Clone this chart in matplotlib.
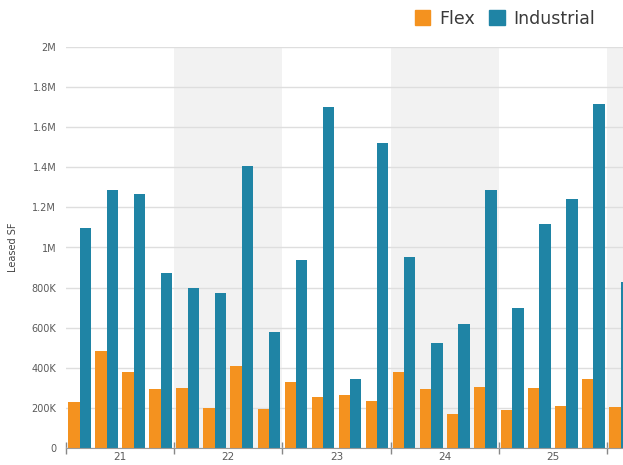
import matplotlib
matplotlib.use("Agg")
import matplotlib.pyplot as plt
from matplotlib.patches import Patch
import numpy as np

years = ["21", "22", "23", "24", "25"]
quarters = ["21Q1", "21Q2", "21Q3", "21Q4", "22Q1", "22Q2", "22Q3", "22Q4",
            "23Q1", "23Q2", "23Q3", "23Q4", "24Q1", "24Q2", "24Q3", "24Q4",
            "25Q1", "25Q2", "25Q3", "25Q4", "26Q1"]
flex = [230e3, 485e3, 380e3, 295e3, 300e3, 200e3, 408e3, 196e3,
        331e3, 256e3, 264e3, 234e3, 381e3, 293e3, 171e3, 306e3,
        191e3, 298e3, 211e3, 344e3, 203e3]
industrial = [1.097e6, 1.287e6, 1.267e6, 874e3, 800e3, 773e3, 1.408e6, 577e3,
              939e3, 1.703e6, 343e3, 1.523e6, 953e3, 522e3, 617e3, 1.287e6,
              698e3, 1.117e6, 1.240e6, 1.716e6, 826e3]
y_ticks = [0, 200e3, 400e3, 600e3, 800e3, 1e6, 1.2e6, 1.4e6, 1.6e6, 1.8e6, 2e6]
y_labels = ["0", "200K", "400K", "600K", "800K", "1M", "1.2M", "1.4M", "1.6M", "1.8M", "2M"]

C_FLEX = "#F4921F"
C_IND = "#1F84A5"

W, H = 623, 465
fig = plt.figure(figsize=(W / 100, H / 100), dpi=100)
left_px, bottom_px, top_px = 66, 448, 47
ax = fig.add_axes([left_px / W, (H - bottom_px) / H, 1 - left_px / W, (bottom_px - top_px) / H])

x = np.arange(len(quarters))
bw = 0.42
ax.bar(x - bw / 2, flex, width=bw, color=C_FLEX, zorder=3)
ax.bar(x + bw / 2, industrial, width=bw, color=C_IND, zorder=3)

xmax = -0.5 + (W - left_px) / 27.05
ax.set_xlim(-0.5, xmax)
ax.set_ylim(0, 2e6)

# alternating year shading
for k in range(0, 7):
    if k % 2 == 1:
        ax.axvspan(-0.5 + 4 * k, -0.5 + 4 * (k + 1), color="#f2f2f2", zorder=0, lw=0)

ax.set_yticks(y_ticks)
ax.set_yticklabels(y_labels)
ax.grid(axis="y", color="#dedede", lw=1, zorder=1)
ax.tick_params(axis="y", length=0, labelsize=7, labelcolor="#5a5a5a", pad=7)

bounds = [-0.5 + 4 * k for k in range(6)]
ax.set_xticks(bounds)
ax.set_xticklabels([])
ax.set_xticks([1.5 + 4 * k for k in range(len(years))], minor=True)
ax.set_xticklabels(years, minor=True)
ax.tick_params(axis="x", which="major", direction="inout", length=9, color="#888888", width=1)
ax.tick_params(axis="x", which="minor", length=0, labelsize=7.5, labelcolor="#5a5a5a", pad=3)

for s in ["top", "right", "left"]:
    ax.spines[s].set_visible(False)
ax.spines["bottom"].set_color("#999999")
ax.spines["bottom"].set_zorder(4)

ax.set_ylabel("Leased SF", fontsize=7, color="#444444", labelpad=10)

handles = [Patch(color=C_FLEX, label="Flex"), Patch(color=C_IND, label="Industrial")]
fig.legend(handles=handles, loc="upper right", bbox_to_anchor=(605 / W, 1.0), ncol=2,
           frameon=False, prop={"size": 12.5}, handlelength=0.9, handleheight=0.9,
           handletextpad=0.5, columnspacing=0.85, labelcolor="#3a3a3a", borderaxespad=0.15)

fig.savefig("out.png", dpi=100)
